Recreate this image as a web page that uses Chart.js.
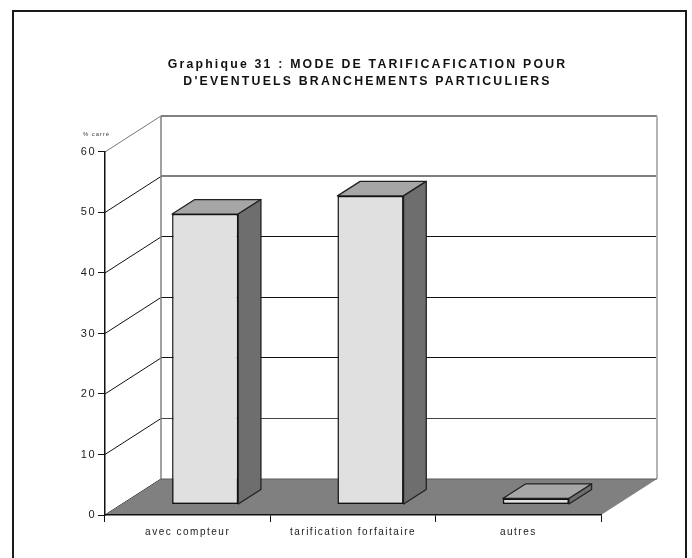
<!DOCTYPE html>
<html>
<head>
<meta charset="utf-8">
<script src="https://cdn.jsdelivr.net/npm/chart.js@4"></script>
<style>
html,body{margin:0;padding:0;background:#fff;overflow:hidden}
#wrap{position:relative;width:692px;height:558px}
canvas{position:absolute;left:0;top:0}
#frame{position:absolute;left:12px;top:10px;width:671px;height:600px;border:2.5px solid #1a1a1a}
</style>
</head>
<body>
<div id="wrap"><canvas id="c" width="692" height="558"></canvas><div id="frame"></div></div>
<script>
const categories = ["avec compteur", "tarification forfaitaire", "autres"];
const values = [48, 51, 1];
const titleLines = ["Graphique 31 : MODE DE TARIFICAFICATION POUR", "D'EVENTUELS BRANCHEMENTS PARTICULIERS"];
const unitLabel = "% carré";
const yMin = 0, yMax = 60, yStep = 10;

const wallDx = 56, wallDy = 36;      // depth of the 3D box
const barDx = 22.7, barDy = 14.5;    // depth of each bar
const barShiftX = 17.5, barShiftY = -10.5; // bars stand inside the floor

function poly(ctx, pts, fill, stroke, lw){
  ctx.beginPath();
  pts.forEach((p,i)=> i ? ctx.lineTo(p[0],p[1]) : ctx.moveTo(p[0],p[1]));
  ctx.closePath();
  if(fill){ctx.fillStyle=fill;ctx.fill();}
  if(stroke){ctx.strokeStyle=stroke;ctx.lineWidth=lw;ctx.lineJoin='round';ctx.stroke();}
}
function seg(ctx,x0,y0,x1,y1,color,lw){
  ctx.beginPath();ctx.moveTo(x0,y0);ctx.lineTo(x1,y1);
  ctx.strokeStyle=color;ctx.lineWidth=lw;ctx.stroke();
}

const box3d = {
  id:'box3d',
  afterLayout(chart){
    const t = chart.titleBlock;
    t.left = 367.5 - 200; t.right = 367.5 + 200;
    if(!t._spaced){
      t._spaced = true;
      const base = Object.getPrototypeOf(t).draw;
      t.draw = function(){
        this.ctx.save();
        this.ctx.letterSpacing = '2.2px';
        base.apply(this, arguments);
        this.ctx.restore();
      };
    }
  },
  beforeDraw(chart){
    const ctx = chart.ctx;
    ctx.letterSpacing = '1.5px';
    const {left:L,right:R} = chart.chartArea;
    const y = chart.scales.y;
    const y0 = y.getPixelForValue(yMin), yT = y.getPixelForValue(yMax);
    ctx.save();
    ctx.fillStyle='#fff';ctx.fillRect(0,0,chart.width,chart.height);
    y.ticks.forEach(t=>{
      const py = y.getPixelForValue(t.value);
      const light = t.value >= 50;
      if(t.value>yMin){
        const gy = light ? Math.round(py-wallDy) : Math.floor(py-wallDy)+0.5;
        seg(ctx,L+wallDx,gy,R+wallDx,gy, light?'#808080':(t.value===10?'#444':'#111'), light?2:1);
      }
      seg(ctx,L,py,L+wallDx,py-wallDy, t.value===60?'#777':'#111',1);
    });
    seg(ctx,L+wallDx,yT-wallDy,L+wallDx,y0-wallDy,'#808080',1.5);
    seg(ctx,R+wallDx,yT-wallDy,R+wallDx,y0-wallDy,'#b4b4b4',2);
    poly(ctx,[[L,y0],[L+wallDx,y0-wallDy],[R+wallDx,y0-wallDy],[R,y0]],'#808080');
    seg(ctx,L+wallDx,y0-wallDy,R+wallDx,y0-wallDy,'#5a5a5a',1);
    ctx.restore();
  },
  beforeDatasetsDraw(chart){
    const ctx = chart.ctx;
    ctx.save();
    ctx.translate(barShiftX,barShiftY);
    chart.getDatasetMeta(0).data.forEach(b=>{
      const l=b.x-b.width/2, r=b.x+b.width/2, t=b.y, bot=b.base;
      poly(ctx,[[l,t],[l+barDx,t-barDy],[r+barDx,t-barDy],[r,t]],'#a6a6a6','#222',1.3);
      poly(ctx,[[r,t],[r+barDx,t-barDy],[r+barDx,bot-barDy],[r,bot]],'#6e6e6e','#222',1.3);
    });
  },
  afterDatasetsDraw(chart){
    chart.ctx.restore();
  },
  afterDraw(chart){
    const ctx=chart.ctx;
    ctx.save();
    ctx.font='6px "Liberation Sans"';
    ctx.letterSpacing='0.9px';
    ctx.fillStyle='#444';
    ctx.textAlign='left';ctx.textBaseline='middle';
    ctx.fillText(unitLabel,83,134);
    ctx.restore();
  }
};

new Chart(document.getElementById('c'),{
  type:'bar',
  data:{labels:categories,datasets:[{
    data:values,
    backgroundColor:'#e0e0e0',
    borderColor:'#111',
    borderWidth:1.5,
    borderSkipped:false,
    barPercentage:0.4,
    categoryPercentage:1,
    clip:false
  }]},
  plugins:[box3d],
  options:{
    responsive:false,
    animation:false,
    layout:{padding:{left:0,right:91,top:0,bottom:0}},
    plugins:{
      legend:{display:false},
      tooltip:{enabled:false},
      title:{
        display:true,
        text:titleLines,
        color:'#111',
        font:{family:'"Liberation Sans"',size:12.3,weight:'bold',lineHeight:1.38},
        padding:{top:56,bottom:62}
      }
    },
    scales:{
      x:{
        afterFit(s){s.height=43;},
        grid:{drawOnChartArea:false,color:'#111',tickLength:7,tickWidth:1},
        border:{color:'#111',width:1.5},
        ticks:{color:'#222',padding:4,maxRotation:0,font:{family:'"Liberation Sans"',size:10}}
      },
      y:{
        min:yMin,max:yMax,
        afterFit(s){s.width=105;},
        grid:{drawOnChartArea:false,color:'#111',tickLength:7,tickWidth:1},
        border:{color:'#111',width:1.5},
        ticks:{stepSize:yStep,color:'#222',padding:2,font:{family:'"Liberation Sans"',size:11}}
      }
    }
  }
});
</script>
</body>
</html>
